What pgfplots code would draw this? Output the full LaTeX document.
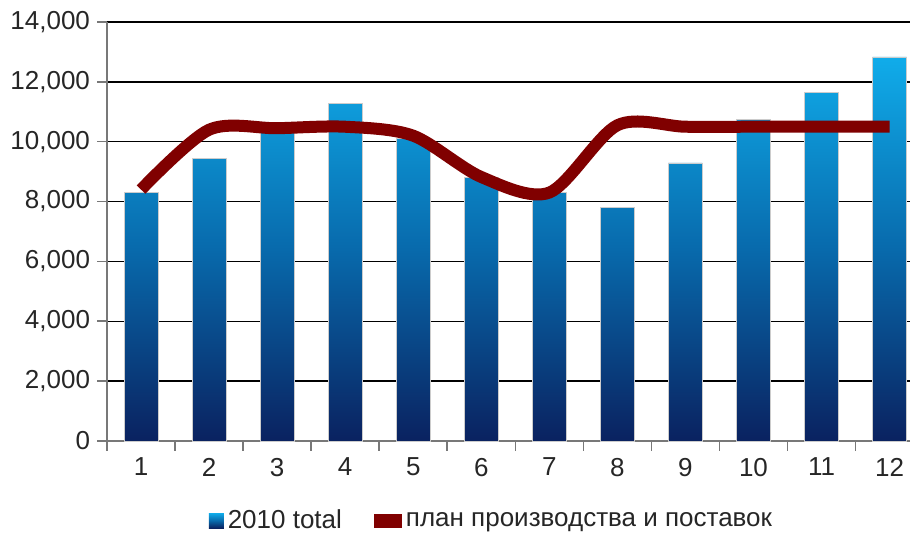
\documentclass[border=0pt]{standalone}
\usepackage{fontspec}
\setmainfont{Liberation Sans}
\usepackage{pgfplots}
\pgfplotsset{compat=1.18}
\definecolor{bartop}{RGB}{16,172,234}
\definecolor{barmid}{RGB}{8,106,172}
\definecolor{barbot}{RGB}{10,34,96}
\definecolor{linered}{RGB}{128,0,0}
\definecolor{axgray}{RGB}{120,120,120}
\begin{document}
\begin{tikzpicture}
\begin{axis}[
 scale only axis, width=401.5pt, height=209.5pt,
 xmin=0.5, xmax=12.3, ymin=0, ymax=14000,
 clip=false,
 axis lines*=left,
 axis line style={axgray, line width=1pt},
 xtick={1,...,12},
 minor xtick={0.5,1.5,...,11.5},
 ytick={0,2000,...,14000},
 ymajorgrids, grid style={black, line width=0.7pt},
 major x tick style={draw=none},
 tick align=outside,
 major tick length=5pt, minor tick length=5pt,
 minor x tick style={axgray, line width=0.8pt},
 y tick style={axgray, line width=0.8pt},
 scaled y ticks=false,
 yticklabel style={/pgf/number format/.cd, 1000 sep={,}},
 /pgf/number format/assume math mode=true,
 tick label style={font=\fontsize{13}{15}\selectfont, text=black!85},
 legend style={at={(0.48,-0.19)}, anchor=center, draw=none, legend columns=2,
   font=\fontsize{13}{15}\selectfont, text=black!85,
   /tikz/every even column/.append style={column sep=14pt}},
]
\addplot[ybar, bar shift=0pt, bar width=17pt, draw=gray!40, top color=bartop, bottom color=barbot, middle color=barmid,
  legend image code/.code={\fill[draw=none, top color=bartop, bottom color=barbot, middle color=barmid] (0pt,-3.75pt) rectangle (7.5pt,3.75pt);}]
 coordinates {(1,8290) (2,9450) (3,10300) (4,11290) (5,10100) (6,8800) (7,8300) (8,7790) (9,9290) (10,10750) (11,11660) (12,12830)};
\addlegendentry{2010 total}
\addplot[linered, line width=6pt, smooth,
  legend image code/.code={\fill[draw=none, line width=0pt, fill=linered] (0pt,-3.5pt) rectangle (14pt,3.5pt);}]
 coordinates {(1,8400) (2,10400) (3,10450) (4,10500) (5,10200) (6,8820) (7,8300) (8,10550) (9,10500) (10,10500) (11,10500) (12,10500)};
\addlegendentry{план производства и поставок}
\path (rel axis cs:-0.1333,-0.222) rectangle (rel axis cs:1.005,1.0525);
\end{axis}
\end{tikzpicture}
\end{document}
